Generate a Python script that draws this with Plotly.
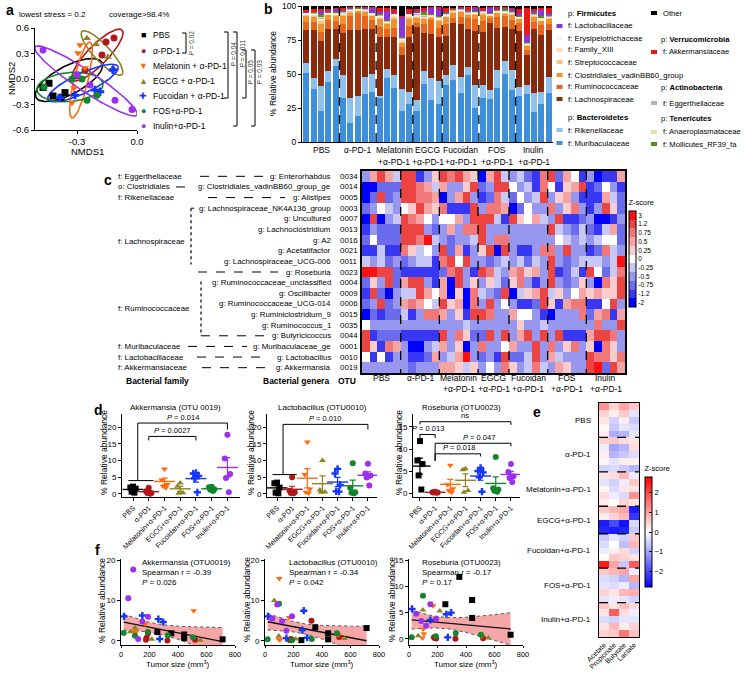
import numpy as np
import plotly.graph_objects as go

W, H = 748, 673
FONT = "Liberation Sans, Arial, Helvetica, sans-serif"


def PX(x):
    return x / W


def PY(y):
    return 1 - y / H


# ---------------- shared group definitions ----------------
groups = ["PBS", "α-PD-1", "Melatonin+α-PD-1", "EGCG+α-PD-1",
          "Fucoidan+α-PD-1", "FOS+α-PD-1", "Inulin+α-PD-1"]
group_sizes = [5, 5, 5, 4, 5, 5, 5]
group_colors = ["#000000", "#b0171b", "#ff6a10", "#8c8424", "#1536ff", "#13852c", "#9b30f0"]
group_symbols = ["square", "circle", "triangle-down", "triangle-up", "cross", "circle", "circle"]
legend_a_labels = ["PBS", "α-PD-1", "Melatonin + α-PD-1", "EGCG + α-PD-1",
                   "Fucoidan + α-PD-1", "FOS+α-PD-1", "Inulin+α-PD-1"]
legend_a_glyphs = ["■", "●", "▼", "▲", "✚", "●", "●"]
bar_group_line1 = ["PBS", "α-PD-1", "Melatonin", "EGCG", "Fucoidan", "FOS", "Inulin"]
bar_group_line2 = ["", "", "+α-PD-1", "+α-PD-1", "+α-PD-1", "+α-PD-1", "+α-PD-1"]

# ---------------- panel a : NMDS ----------------
nmds1 = [[-0.47, -0.44, -0.42, -0.36, -0.38],
         [-0.155, -0.115, -0.175, -0.26, -0.30],
         [-0.295, -0.26, -0.325, -0.315, -0.285],
         [-0.25, -0.145, -0.205, -0.12],
         [-0.12, -0.21, -0.31, -0.385, -0.185],
         [-0.465, -0.325, -0.275, -0.25, -0.20],
         [-0.47, -0.11, -0.025, -0.235, -0.30]]
nmds2 = [[-0.10, -0.05, -0.20, -0.16, -0.22],
         [0.435, 0.482, 0.282, 0.106, 0.035],
         [0.306, 0.13, -0.28, -0.106, 0.40],
         [0.48, 0.26, 0.41, 0.13],
         [0.106, -0.13, -0.19, -0.22, -0.15],
         [-0.094, 0.0, 0.0, -0.25, -0.19],
         [0.34, -0.25, -0.36, -0.07, 0.05]]
ellipse_center = [(-0.34, -0.012), (-0.1975, 0.282), (-0.28, -0.012), (-0.175, 0.306),
                  (-0.27, -0.047), (-0.335, -0.094), (-0.255, -0.023)]
ellipse_major = [(0.165, 0.206), (0.1225, 0.294), (0.045, 0.447), (0.10, -0.253),
                 (0.175, 0.194), (0.165, 0.035), (0.255, -0.40)]
ellipse_minor = [(0.033, -0.147), (0.036, -0.082), (0.034, -0.019), (-0.03, -0.065),
                 (0.021, -0.106), (0.0066, -0.17), (-0.028, -0.099)]
a_pvalues = ["0.02", "0.04", "0.011", "0.05", "0.03"]

# ---------------- panel b : family composition ----------------
families = ["f: Muribaculaceae", "f: Rikenellaceae", "f: Lachnospiraceae", "f: Ruminococcaceae",
            "f: Clostridiales_vadinBB60_group", "f: Streptococcaceae", "f: Family_XIII",
            "f: Erysipelotrichaceae", "f: Eggerthellaceae", "f: Anaeroplasmataceae",
            "f: Mollicutes_RF39_fa", "f: Lactobacillaceae", "f: Akkermansiaceae", "Other"]
family_colors = ["#3d8fdc", "#8fc1ec", "#8a2a0c", "#e5661c", "#f1922e", "#f6c27e", "#f9dcc2",
                 "#fdf0e4", "#b3b3b3", "#d8e7a8", "#5e8a1e", "#8b35d6", "#f01616", "#000000"]
muribaculaceae = [51, 39, 23, 44, 56, 32, 14, 19, 35, 37, 33, 47, 40, 23, 28, 23, 43, 31, 28,
                  42, 46, 36, 49, 25, 32, 32, 40, 50, 38, 34, 35, 22, 28, 36]
rikenellaceae = [7, 8, 18, 8, 5, 17, 18, 15, 13, 13, 0.5, 7, 9, 16, 9, 8, 9, 16, 17,
                 7, 11, 12, 6, 17, 10, 6, 13, 9, 15, 6, 7, 14, 9, 12]
lachnospiraceae = [24, 35, 33, 31, 22, 31, 50, 49, 35, 33, 44, 23, 28, 25, 40, 54, 28, 32, 32,
                   29, 31, 39, 28, 40, 39, 50, 31, 25, 30, 41, 22, 47, 42, 34]
ruminococcaceae = [6, 6, 7, 6, 6, 7, 10, 12, 10, 7, 7, 6, 7, 6, 8, 3, 7, 10, 7,
                   9, 4, 5, 8, 9, 8, 4, 8, 8, 7, 6, 4, 5, 7, 5]
clostridiales_vadin = [5, 4, 6, 4, 4, 6, 3, 2, 3, 3, 6, 4, 7, 3, 6, 4, 4, 2, 5,
                       5, 4, 4, 3, 3, 5, 1, 3, 2, 4, 3, 3, 4, 3, 4]
streptococcaceae = [0.5, 1, 2, 0.5, 0.5, 1, 1, 0.5, 0.5, 0.5, 1, 0.5, 1, 0.5, 1, 1, 0.5, 0.5, 1,
                    0.5, 0.5, 0.5, 0.5, 0.5, 1, 0.5, 0.5, 0.5, 0.5, 0.5, 0.5, 0.5, 0.5, 0.5]
family_xiii = [0.5, 1, 1, 0.5, 0.5, 1, 0.5, 0.5, 0.5, 0.5, 1, 0.5, 1, 2, 1, 1, 0.5, 0.5, 1,
               0.5, 0.5, 0.5, 0.5, 0.5, 0.5, 0.5, 0.5, 0.5, 0.5, 0.5, 0.5, 0.5, 0.5, 0.5]
erysipelotrichaceae = [0.5, 0.5, 1, 0.5, 0.5, 0.5, 0.5, 0.5, 0.5, 0.5, 0.5, 0.5, 0.5, 0.5, 0.5,
                       0.5, 0.5, 0.5, 0.5, 0.5, 0.5, 0.5, 0.5, 0.5, 0.5, 0.5, 0.5, 0.5, 0.5,
                       0.5, 0.5, 0.5, 0.5, 0.5]
eggerthellaceae = [0.3, 0.5, 0.5, 0.3, 0.3, 0.5, 0.5, 0.3, 0.3, 0.3, 0.5, 0.5, 0.5, 0.5, 0.5,
                   0.5, 0.5, 0.3, 0.5, 0.5, 0.3, 0.3, 0.3, 0.3, 0.5, 0.3, 0.3, 0.3, 0.3,
                   0.3, 0.3, 0.3, 0.3, 0.3]
anaeroplasmataceae = [0.2, 0.5, 0.5, 0.2, 0.2, 0.3, 0.2, 0.2, 0.2, 0.2, 0.5, 0.5, 0.3, 0.3, 0.3,
                      0.5, 0.5, 0.2, 0.3, 0.5, 0.2, 0.2, 0.2, 0.2, 0.3, 0.2, 0.2, 0.2, 0.2,
                      0.2, 0.2, 0.2, 0.2, 0.2]
mollicutes = [0.2, 0.3, 2, 0.3, 0.3, 0.2, 0.3, 0.2, 0.5, 0.2, 0.5, 0.5, 0.2, 0.2, 0.2,
              0.5, 2.5, 0.5, 0.2, 0.5, 0.5, 0.5, 0.5, 0.3, 0.2, 0.5, 0.5, 2, 0.5,
              0.5, 0.5, 0.5, 2, 0.5]
lactobacillaceae = [0.5, 0.5, 3, 1, 3, 0.5, 0.5, 0.3, 0.5, 4, 1, 6, 0.5, 15, 0.5,
                    0.5, 0.5, 5, 6, 0.5, 0.5, 0.5, 0.5, 3, 0.5, 4, 1, 0.5, 1,
                    2, 5, 1, 4, 1]
akkermansiaceae = [1.3, 1.2, 0.5, 1.2, 0.5, 1.5, 0.5, 0.5, 0.5, 0.3, 3, 3, 3, 1, 3,
                   2, 2, 0.5, 1, 3, 0.5, 0.5, 2.5, 0.5, 1, 0.3, 1, 0.5, 1.5,
                   3, 20, 2, 2, 4]
other = [3, 2.5, 2.5, 2, 1.2, 1.5, 0.5, 0.5, 0.5, 0.5, 1.5, 1, 2, 7, 2,
         2, 1.5, 0.5, 0.5, 1.5, 1, 0.5, 0.5, 0.5, 1.5, 0.5, 0.5, 0.5, 1,
         2, 1.5, 2, 1, 1.5]
family_values = [muribaculaceae, rikenellaceae, lachnospiraceae, ruminococcaceae,
                 clostridiales_vadin, streptococcaceae, family_xiii, erysipelotrichaceae,
                 eggerthellaceae, anaeroplasmataceae, mollicutes, lactobacillaceae,
                 akkermansiaceae, other]

# ---------------- panel c : OTU heatmap ----------------
otu_ids = ["0034", "0014", "0005", "0003", "0007", "0013", "0016", "0021", "0011", "0023",
           "0004", "0009", "0006", "0015", "0035", "0044", "0001", "0010", "0019"]
genera = ["g: Enterorhabdus", "g: Clostridiales_vadinBB60_group_ge", "g: Alistipes",
          "g: Lachnospiraceae_NK4A136_group", "g: Uncultured", "g: Lachnoclostridium", "g: A2",
          "g: Acetatifactor", "g: Lachnospiraceae_UCG-006", "g: Roseburia",
          "g: Ruminococcaceae_unclassified", "g: Oscillibacter", "g: Ruminococcaceae_UCG-014",
          "g: Ruminiclostridium_9", "g: Ruminococcus_1", "g: Butyricicoccus",
          "g: Muribaculaceae_ge", "g: Lactobacillus", "g: Akkermansia"]
family_labels = ["f: Eggerthellaceae", "o: Clostridiales", "f: Rikenellaceae", "f: Lachnospiraceae",
                 "f: Ruminococcaceae", "f: Muribaculaceae", "f: Lactobacillaceae", "f: Akkermansiaceae"]
family_label_rows = [0, 1, 2, 6.1, 12.4, 16, 17, 18]
z_levels = [-2, -1.2, -0.75, -0.5, -0.25, 0, 0.25, 0.5, 0.75, 1.2, 3]
z_level_colors = ["#0000ff", "#3838f4", "#6b6bee", "#9797ef", "#c8c8f6", "#ffffff",
                  "#f9cdcd", "#f5a3a3", "#f17878", "#ec4343", "#ff1010"]
otu_z = [
    [-0.5, 0.5, 1.2, 0.5, -0.25, 1.2, 1.2, -1.2, -0.5, 0.25, 1.2, 0.75, 1.2, 0.5, 0.25, -2, 0.5, 1.2, -0.25, -0.5, -0.25, -0.75, -1.2, 0.75, 1.2, -0.75, 0.5, 0, -1.2, -0.5, -2, -1.2, -1.2, 0.5],
    [-2, -2, -0.75, -0.75, -0.75, 1.2, 1.2, 0.75, 0.5, -0.25, 0.5, -0.5, -0.5, 0.25, 1.2, -0.75, -0.5, 1.2, 1.2, 0, -0.5, -0.25, -1.2, 0.75, 0, -1.2, 0.25, 0.5, 1.2, -1.2, -0.75, 0, -0.5, -1.2],
    [-2, -0.75, 1.2, -0.75, -0.5, 1.2, 1.2, 0.75, 0.75, 0.5, -2, -0.5, 0.5, 1.2, -0.5, -1.2, -0.75, 0.75, -0.25, -0.75, 0, -0.5, -0.25, 1.2, -0.5, 0.25, 0.5, -0.5, -1.2, -1.2, -1.2, 0.5, -0.25, -0.75],
    [-0.75, -0.5, 0, -0.25, -0.5, 0, 0.25, 1.2, 0.5, 0.25, 0.75, -1.2, -1.2, -1.2, 1.2, -0.5, 0.75, 0.75, 0.5, -2, -0.75, 0, -0.5, -0.5, 0.75, -0.5, 0.25, 0.75, -0.5, -1.2, -0.5, 1.2, 0.25, -0.75],
    [-2, 1.2, -2, -0.5, -0.25, 1.2, 0.75, 0.5, 0, -0.5, 0, 0, 0.5, -0.5, 1.2, 1.2, 1.2, -0.25, -1.2, 1.2, 0.25, 0, 0.5, -0.25, -0.5, 1.2, -1.2, -1.2, -0.75, -0.5, -2, -2, -1.2, -0.5],
    [-1.2, -0.5, -0.75, -0.75, -0.75, 1.2, 1.2, 1.2, -0.5, -0.75, -0.5, 0.5, -0.5, 0.75, 0.75, 1.2, -0.5, -0.5, -0.5, -0.5, -0.5, -0.5, -0.5, -0.5, 1.2, -0.25, -0.5, -0.75, -0.25, -0.75, -1.2, -0.25, 0.5, -0.75],
    [-0.75, 0, -0.75, -0.75, -0.75, 1.2, 1.2, 0.75, 3, -0.25, -0.5, -0.75, -0.5, -0.5, -0.25, 1.2, -0.5, 0.75, 0.75, -0.5, -0.5, -0.5, -0.5, -0.5, -0.5, 0, -0.25, -0.5, -0.25, -0.5, -0.25, 0, 0, -0.75],
    [-1.2, -1.2, -0.25, -1.2, -1.2, 0.75, 0.25, -0.25, 0, -0.5, 1.2, -0.75, 0.5, -1.2, -0.5, 0.25, 1.2, -2, 1.2, -0.5, -1.2, -1.2, -0.5, 0.75, 0.75, -0.5, 1.2, -0.5, -0.5, -1.2, -0.75, 0.75, -0.25, -0.5],
    [-0.25, -0.5, -0.25, -0.75, -0.5, -0.75, -0.5, -0.25, -0.25, -1.2, 0.75, 1.2, 0, 1.2, -0.5, -0.5, -0.75, -0.5, -0.25, -0.5, -0.25, -0.75, -0.25, -0.5, 1.2, -0.5, -0.75, -0.5, -0.25, -0.25, -0.25, -0.5, -0.25, 3],
    [3, 3, 1.2, 1.2, -0.75, -1.2, -1.2, -1.2, -1.2, -1.2, -0.75, 0.75, 1.2, -0.5, -1.2, 1.2, 0.75, -0.25, -0.5, 0.5, 0.75, 0.25, 0.5, -0.5, 1.2, -1.2, -0.75, -0.25, -1.2, 1.2, 0, -0.75, -0.25, 0.75],
    [-0.75, 0.25, -0.5, 1.2, -0.75, 0.5, 1.2, 1.2, -0.5, -1.2, 0.5, -2, 1.2, -0.5, 0.25, -0.5, 0.25, -0.25, -0.75, 0.25, 0.75, -0.5, -1.2, -0.5, 1.2, -0.5, -0.75, -0.5, 0.25, -0.5, -2, 0.75, 0.25, 1.2],
    [-1.2, 1.2, -0.75, -2, -0.5, -0.25, -0.25, 1.2, 0.5, 0, 0.5, -2, 0.25, -2, 0.75, -0.25, -0.5, -0.75, 1.2, -2, -0.25, 0.25, 0.5, 1.2, -0.25, 0.25, -0.5, 0, 0.5, 0.25, 0.5, 0.25, 0.25, 1.2],
    [-0.75, -0.5, 1.2, -0.75, -0.5, 0.5, 0.75, 0.5, 0, -0.25, 1.2, 0.25, 0.5, -2, 0.75, -0.5, 1.2, -0.5, 0, -0.5, -1.2, -1.2, -0.75, 1.2, 0.25, -1.2, 0.5, 0.75, 0.75, -1.2, -1.2, 0, 1.2, -0.5],
    [-2, -0.75, -1.2, -0.75, -0.75, -0.25, -1.2, -0.5, 0.75, 0.75, 0.5, -0.5, 0.25, -1.2, 1.2, 1.2, 0.75, -0.5, -0.5, 0.5, 0, 0, -0.5, -1.2, -2, -0.5, -0.5, -0.5, 0.75, -0.75, 0.5, 0.75, -1.2, 0.5],
    [0, -0.5, -0.5, -0.5, -0.5, -0.5, -0.5, -0.5, -0.5, -0.5, -0.5, -0.5, -0.5, -0.25, -0.5, -0.5, -0.5, -0.5, -0.5, -0.5, 0.25, -0.5, -0.5, -0.25, -0.5, -0.5, -0.5, -0.5, -0.5, -0.5, 0.75, -0.5, -0.5, 1.2],
    [1.2, -1.2, -0.75, -0.75, -0.75, -1.2, -1.2, -1.2, -1.2, -1.2, 1.2, -0.5, 0.75, 0.25, -0.75, -0.75, 1.2, -0.5, 1.2, -0.5, 0.5, 1.2, -0.5, 1.2, -0.5, 1.2, -1.2, -1.2, -1.2, 0.5, 1.2, 1.2, 0.75, -0.5],
    [1.2, 0.25, -1.2, 0.75, 0.5, -0.5, -2, -2, -0.5, -0.25, 0.5, -0.5, 0.25, -2, -0.5, 0.75, -0.5, -0.5, 0, 0.5, -0.5, -0.5, 1.2, -0.5, 0.75, -0.5, 0.25, 0.75, -0.5, 0.25, -2, 0.75, 0.25, -0.5],
    [0, -1.2, 0, -1.2, -0.5, -0.5, -1.2, -1.2, -0.75, 0.5, -0.5, -0.25, 0.5, 3, -0.5, -0.75, -0.5, -1.2, 1.2, -0.75, -0.75, -0.25, 1.2, -0.5, 0.5, -0.25, -0.5, -0.5, -0.5, 1.2, 0.75, 0.75, 0.25, 0.75],
    [-0.5, -0.5, -0.5, -0.5, -0.5, -0.5, -0.75, -0.5, -0.5, -0.5, 0.5, 0.5, 0.25, -0.25, 0.25, -0.5, 0, -0.5, 0.75, 0.25, -0.5, -0.25, 0.75, -0.25, -0.5, 0.5, 0.25, -0.5, -0.5, 1.2, 3, -0.75, 1.2, 0.5],
]

# ---------------- panel d / f : selected OTUs per mouse ----------------
d_tick_labels_12 = ["PBS", "α-PD1", "Melatonin+α-PD-1", "EGCG+α-PD-1",
                    "Fucoidan+α-PD-1", "FOS+α-PD-1", "Inulin+α-PD-1"]
d_tick_labels_3 = ["PBS", "α-PD-1", "Melatonin+α-PD-1", "EGCG+α-PD-1",
                   "Fucoidan+α-PD-1", "FOS+α-PD-1", "Inulin+α-PD-1"]
tumor_size = [[255, 353, 443, 443, 713], [175, 180, 190, 326, 520], [95, 100, 105, 169, 510],
              [65, 97, 216, 557], [21, 150, 262, 272, 296], [19, 98, 188, 328, 505],
              [51, 86, 120, 150, 190]]
akkermansia = [[2.2, 1.9, 1.6, 0.7, 0.4], [0.3, 0.8, 1.9, 0.1, 0.3], [2.3, 1.9, 2.8, 4.2, 7.5],
               [2.3, 3.3, 0.4, 0.2], [6.1, 6.3, 5.4, 0.5, 4.7], [2.0, 1.3, 2.2, 1.4, 0.9],
               [10.6, 17.7, 0.5, 4.8, 6.0]]
lactobacillus = [[0.2, 3.4, 1.9, 0.4, 3.2], [0.2, 0.5, 0.3, 5.0, 1.0], [0.5, 15.5, 0.3, 5.8, 1.5],
                 [10.0, 1.2, 0.5, 0.6], [6.1, 0.7, 2.7, 7.5, 0.8], [0.4, 9.2, 0.2, 0.5, 1.9],
                 [5.5, 9.0, 4.9, 2.5, 6.1]]
roseburia = [[6.6, 11.8, 7.4, 4.0, 0.8], [0.3, 0.2, 0.1, 0.05, 0.15], [0.2, 1.9, 1.0, 6.3, 0.5],
             [0.6, 5.5, 5.3, 0.2], [5.7, 3.6, 4.7, 0.3, 5.0], [0.3, 8.2, 0.5, 1.1, 0.8],
             [4.8, 3.4, 2.5, 6.6, 3.8]]
otu_titles_d = ["Akkermansia (OTU 0019)", "Lactobacillus (OTU0010)", "Roseburia (OTU0023)"]
otu_titles_f = ["Akkermansia (OTU0019)", "Lactobacillus (OTU0010)", "Roseburia (OTU0023)"]
spearman_r = ["-0.39", "-0.34", "-0.17"]
spearman_p = ["0.026", "0.042", "0.17"]

# ---------------- panel e : SCFA heatmap ----------------
scfa_names = ["Acetate", "Propionate", "Butyrate", "Lactate"]
scfa_z = [
    [1.2, 0.5, 1.0, 0.6], [0.5, 0.2, 0.6, -0.3], [0.3, -0.5, 0.2, -0.6], [0.1, -0.6, -0.3, -0.4],
    [0.2, -0.9, -0.8, -0.3],
    [0.5, 0.6, 0.4, 0.3], [-0.2, -1.0, -0.8, 0.4], [0.2, -0.8, -0.6, -0.4], [0.1, -0.3, 0.2, 0.2],
    [-0.5, -0.4, -0.6, -0.8],
    [0.3, 0.4, 0.8, -0.2], [-0.3, -0.5, -0.2, 0.6], [0.1, -0.4, 0.3, 0.3], [0.4, -0.2, -0.4, 1.2],
    [0.2, 0.0, 0.5, 0.3],
    [0.6, 0.8, 1.0, -2.5], [0.2, 0.5, 0.8, -2.2], [-2.5, -2.0, -2.6, -0.4], [-2.4, -2.5, -2.4, -0.6],
    [-0.6, -0.3, -0.5, 0.6], [-0.4, 0.0, -0.7, 0.8], [-0.2, 0.2, 0.4, -0.5], [0.0, 0.6, 0.5, 0.3],
    [2.5, 1.0, -0.6, 1.8],
    [0.6, 0.8, 1.0, -0.2], [-0.4, -0.5, -0.8, 1.0], [-0.3, -0.4, -0.2, -0.8], [0.5, 0.3, 0.8, 0.9],
    [-0.3, -0.2, -0.3, -0.5],
    [0.6, 0.3, 0.7, 0.4], [0.3, 1.8, 0.4, -0.2], [-0.4, -0.5, -0.3, -0.3], [0.3, 0.8, 0.2, 0.5],
    [0.5, 0.6, 1.5, 0.7],
]

# =====================================================================
fig = go.Figure()
annotations = []
shapes = []


def A(x, y, text, size=8, xa="center", ya="middle", color="black", angle=0,
      xref="paper", yref="paper"):
    if xref == "paper":
        x = PX(x)
    if yref == "paper":
        y = PY(y)
    annotations.append(dict(x=x, y=y, xref=xref, yref=yref, text=text, showarrow=False,
                            font=dict(family=FONT, size=size, color=color),
                            xanchor=xa, yanchor=ya, textangle=angle, borderpad=0))


def L(x0, y0, x1, y1, xref="paper", yref="paper", dash="solid", width=1, color="black"):
    if xref == "paper":
        x0, x1 = PX(x0), PX(x1)
    if yref == "paper":
        y0, y1 = PY(y0), PY(y1)
    shapes.append(dict(type="line", x0=x0, y0=y0, x1=x1, y1=y1, xref=xref, yref=yref,
                       line=dict(color=color, width=width, dash=dash)))


def R(x0, y0, x1, y1, color):
    shapes.append(dict(type="rect", x0=PX(x0), x1=PX(x1), y0=PY(y0), y1=PY(y1),
                       xref="paper", yref="paper", line=dict(width=0), fillcolor=color))


def base_axis(domain, rng, size=8, **kw):
    d = dict(domain=domain, range=rng, showline=True, linecolor="black", linewidth=1,
             ticks="outside", ticklen=3, tickwidth=1, tickcolor="black", showgrid=False,
             zeroline=False, tickfont=dict(family=FONT, size=size, color="black"),
             fixedrange=True, automargin=False)
    d.update(kw)
    return d


group_starts = np.cumsum([0] + group_sizes[:-1])
group_centers = [s + (n - 1) / 2 for s, n in zip(group_starts, group_sizes)]
group_bounds = [s - 0.5 for s in group_starts[1:]]

# ---------------- panel a ----------------
t = np.linspace(0, 2 * np.pi, 120)
for g in range(7):
    cx, cy = ellipse_center[g]
    ux, uy = ellipse_major[g]
    vx, vy = ellipse_minor[g]
    fig.add_trace(go.Scatter(x=cx + ux * np.cos(t) + vx * np.sin(t),
                             y=cy + uy * np.cos(t) + vy * np.sin(t),
                             mode="lines", line=dict(color=group_colors[g], width=1.6),
                             xaxis="x", yaxis="y", hoverinfo="skip"))
for g in range(7):
    fig.add_trace(go.Scatter(x=nmds1[g], y=nmds2[g], mode="markers",
                             marker=dict(symbol=group_symbols[g], size=7, color=group_colors[g]),
                             xaxis="x", yaxis="y"))

A(10, 10, "<b>a</b>", size=14)
A(18, 14, "lowest stress = 0.2", size=8, xa="left")
A(108, 14, "coverage>98.4%", size=8, xa="left")
A(11, 79, "NMDS2", size=9.5, angle=-90)
A(87, 152, "NMDS1", size=9.5)
legend_a_y = [35, 51, 66, 81, 96, 111, 126]
for g in range(7):
    A(143, legend_a_y[g], legend_a_glyphs[g], size=9, color=group_colors[g])
    A(152, legend_a_y[g], legend_a_labels[g], size=8.5, xa="left")
# significance brackets (panel a)
a_br_x = [186, 228, 237, 246, 255]
a_br_span = [(33, 53), (32, 98), (32, 126), (50, 98), (50, 126)]
for i in range(5):
    xb = a_br_x[i]
    y0, y1 = a_br_span[i]
    L(xb, y0, xb, y1, width=1)
    L(xb - 4, y0, xb, y0, width=1)
    L(xb - 4, y1, xb, y1, width=1)
    A(xb + 4.5, (y0 + y1) / 2 if i == 0 else y0 + 22, "<i>P</i> = " + a_pvalues[i],
      size=6.5, angle=-90, color="#333333")

# ---------------- panel b ----------------
bar_x = list(range(sum(group_sizes)))
for f in range(len(families)):
    fig.add_trace(go.Bar(x=bar_x, y=family_values[f], marker=dict(color=family_colors[f], line=dict(width=0)),
                         xaxis="x2", yaxis="y2", name=families[f]))
for b in group_bounds:
    L(b, 0, b, 100, xref="x2", yref="y2", dash="dash", width=1.3)
for g in range(7):
    A(group_centers[g], 150, bar_group_line1[g], size=8.5, xref="x2")
    if bar_group_line2[g]:
        A(group_centers[g], 162, bar_group_line2[g], size=8.5, xref="x2")
A(268, 9, "<b>b</b>", size=14)
A(273, 74, "% Relative abundance", size=8.5, angle=-90)

# legend of b
fam_idx = {name: i for i, name in enumerate(families)}
left_col = [("p: <b>Firmicutes</b>", 13, None),
            ("f: Lactobacillaceae", 26, "f: Lactobacillaceae"),
            ("f: Erysipelotrichaceae", 38, "f: Erysipelotrichaceae"),
            ("f: Family_XIII", 50, "f: Family_XIII"),
            ("f: Streptococcaceae", 62, "f: Streptococcaceae"),
            ("f: Clostridiales_vadinBB60_group", 75, "f: Clostridiales_vadinBB60_group"),
            ("f: Ruminococcaceae", 87, "f: Ruminococcaceae"),
            ("f: Lachnospiraceae", 99, "f: Lachnospiraceae"),
            ("p: <b>Bacteroidetes</b>", 117, None),
            ("f: Rikenellaceae", 130, "f: Rikenellaceae"),
            ("f: Muribaculaceae", 143, "f: Muribaculaceae")]
right_col = [("Other", 13, "Other"),
             ("p: <b>Verrucomicrobia</b>", 39, None),
             ("f: Akkermansiaceae", 52, "f: Akkermansiaceae"),
             ("p: <b>Actinobacteria</b>", 88, None),
             ("f: Eggerthellaceae", 103, "f: Eggerthellaceae"),
             ("p: <b>Tenericutes</b>", 118, None),
             ("f: Anaeroplasmataceae", 132, "f: Anaeroplasmataceae"),
             ("f: Mollicutes_RF39_fa", 144, "f: Mollicutes_RF39_fa")]
for text, yy, key in left_col:
    A(567, yy, text, size=7.8, xa="left")
    if key:
        R(556.5, yy - 2, 562.5, yy + 2, family_colors[fam_idx[key]])
for text, yy, key in right_col:
    A(662 if key else 660, yy, text, size=7.6, xa="left")
    if key:
        R(651, yy - 2, 657, yy + 2, family_colors[fam_idx[key]])

# ---------------- panel c ----------------
c_index = [[int(np.argmin(np.abs(np.array(z_levels) - v))) for v in row] for row in otu_z]
c_scale = []
nlev = len(z_levels)
for i, col in enumerate(z_level_colors):
    c_scale.append([i / nlev, col])
    c_scale.append([(i + 1) / nlev, col])
fig.add_trace(go.Heatmap(z=c_index, x=bar_x, y=list(range(len(otu_ids))), colorscale=c_scale,
                         zmin=-0.5, zmax=nlev - 0.5, xaxis="x3", yaxis="y3",
                         colorbar=dict(x=PX(629), xanchor="left", y=PY(252), yanchor="middle",
                                       len=110 / H, lenmode="fraction", thickness=7,
                                       thicknessmode="pixels", tickvals=list(range(nlev)),
                                       ticktext=[str(v) for v in z_levels],
                                       tickfont=dict(family=FONT, size=6.5, color="black"),
                                       outlinecolor="black", outlinewidth=1, ticks="",
                                       title=dict(text="Z-score", side="top",
                                                  font=dict(family=FONT, size=7.5, color="black")),
                                       xpad=0, ypad=0)))
for b in group_bounds:
    L(b, -0.5, b, len(otu_ids) - 0.5, xref="x3", yref="y3", dash="dash", width=1.3)
for r in range(len(otu_ids)):
    A(332, r, genera[r], size=7.9, xa="right", yref="y3")
    A(339, r, otu_ids[r], size=7.9, xa="left", yref="y3")
for lab, rr in zip(family_labels, family_label_rows):
    A(117, rr, lab, size=7.9, xa="left", yref="y3")
c_conn_rows = [0, 1, 2, 9, 15, 16, 17, 18]
c_conn_x0 = [200, 176, 208, 198, 201, 188, 197, 202]
c_conn_x1 = [263, 187, 285, 278, 265, 247, 268, 268]
for rr, x0, x1 in zip(c_conn_rows, c_conn_x0, c_conn_x1):
    L(x0, rr, x1, rr, yref="y3", dash="dash", width=1)
L(191, 3, 191, 8.3, yref="y3", dash="dot", width=1.2)
L(191, 3, 194, 3, yref="y3", dash="solid", width=1)
L(201, 9.9, 201, 15, yref="y3", dash="dot", width=1.2)
for g in range(7):
    A(group_centers[g], 378, bar_group_line1[g], size=8.5, xref="x3")
    if bar_group_line2[g]:
        A(group_centers[g], 389, bar_group_line2[g], size=8.5, xref="x3")
A(157, 381, "<b>Bacterial family</b>", size=8.5)
A(296, 381, "<b>Bacterial genera</b>", size=8.5)
A(347, 381, "<b>OTU</b>", size=8.5)
A(108, 180, "<b>c</b>", size=14)

# ---------------- panel d ----------------
d_axes = [("x4", "y4"), ("x5", "y5"), ("x6", "y6")]
d_data = [akkermansia, lactobacillus, roseburia]
spread = [0.0, -0.17, 0.17, -0.09, 0.09]
for k in range(3):
    xa, ya = d_axes[k]
    for g in range(7):
        vals = np.array(d_data[k][g], dtype=float)
        order = np.argsort(-vals)
        offs = np.zeros(len(vals))
        for rank, idx in enumerate(order):
            offs[idx] = spread[rank]
        fig.add_trace(go.Scatter(x=g + offs, y=vals, mode="markers",
                                 marker=dict(symbol=group_symbols[g], size=6, color=group_colors[g]),
                                 xaxis=xa, yaxis=ya))
        m = vals.mean()
        se = vals.std(ddof=1) / np.sqrt(len(vals))
        fig.add_trace(go.Scatter(x=[g], y=[m], mode="markers",
                                 marker=dict(symbol="line-ew", size=15,
                                             line=dict(width=1.4, color=group_colors[g])),
                                 error_y=dict(type="data", array=[se], width=3, thickness=1.2,
                                              color=group_colors[g]),
                                 xaxis=xa, yaxis=ya))
d_title_x = [175, 322, 461]
for k in range(3):
    A(d_title_x[k], 407, otu_titles_d[k], size=8)
d_ytitle_x = [104, 251, 399]
for k in range(3):
    A(d_ytitle_x[k], 453, "% Relative abundance", size=8.5, angle=-90)
A(98, 410, "<b>d</b>", size=14)


def bracket(xa, ya, x0, x1, yb, leg0, leg1, label, lx=None):
    L(x0, leg0, x0, yb, xref=xa, yref=ya)
    L(x0, yb, x1, yb, xref=xa, yref=ya)
    L(x1, yb, x1, leg1, xref=xa, yref=ya)
    A((x0 + x1) / 2 if lx is None else lx, yb + 0.15, label, size=7.5, ya="bottom",
      xref=xa, yref=ya)


L(-0.3, 4.0, 1.3, 4.0, xref="x4", yref="y4")
bracket("x4", "y4", 0.3, 6, 21.2, 4.0, 19.3, "<i>P</i> = 0.014")
bracket("x4", "y4", 1, 4, 17.2, 16.0, 16.0, "<i>P</i> = 0.0027")
L(-0.3, 5.8, 1.3, 5.8, xref="x5", yref="y5")
bracket("x5", "y5", 0.4, 6, 20.8, 5.8, 19.3, "<i>P</i> = 0.010")
bracket("x6", "y6", 0, 1, 13.3, 12.5, 12.5, "<i>P</i> = 0.013")
bracket("x6", "y6", 0, 6, 16.2, 15.6, 15.5, "ns")
bracket("x6", "y6", 1, 6, 11.3, 7.3, 10.6, "<i>P</i> = 0.047", lx=3.9)
bracket("x6", "y6", 1, 4, 8.9, 7.3, 8.3, "<i>P</i> = 0.018", lx=2.6)

# ---------------- panel e ----------------
fig.add_trace(go.Heatmap(z=scfa_z, x=list(range(4)), y=list(range(len(scfa_z))),
                         colorscale=[[0, "#0000ff"], [0.5, "#ffffff"], [1, "#ff0000"]],
                         zmin=-2.8, zmax=2.8, xaxis="x7", yaxis="y7",
                         colorbar=dict(x=PX(645), xanchor="left", y=PY(525), yanchor="middle",
                                       len=124 / H, lenmode="fraction", thickness=7,
                                       thicknessmode="pixels", tickvals=[-2, -1, 0, 1, 2],
                                       tickfont=dict(family=FONT, size=7.5, color="black"),
                                       outlinecolor="black", outlinewidth=1, ticks="inside",
                                       ticklen=3, tickcolor="black",
                                       title=dict(text="Z-score", side="top",
                                                  font=dict(family=FONT, size=7.5, color="black")),
                                       xpad=0, ypad=0)))
for b in group_bounds:
    L(-0.5, b, 3.5, b, xref="x7", yref="y7", dash="dash", width=1.3)
for g in range(7):
    A(592, group_centers[g], groups[g], size=8, xa="right", yref="y7")
A(537, 412, "<b>e</b>", size=14)

# ---------------- panel f ----------------
f_axes = [("x8", "y8"), ("x9", "y9"), ("x10", "y10")]
f_text_x = [141, 288, 421]
tcrit = 2.04
for k in range(3):
    xa, ya = f_axes[k]
    xs = np.concatenate([np.array(v, float) for v in tumor_size])
    ys = np.concatenate([np.array(v, float) for v in d_data[k]])
    slope, icpt = np.polyfit(xs, ys, 1)
    n = len(xs)
    resid = ys - (slope * xs + icpt)
    s = np.sqrt(np.sum(resid ** 2) / (n - 2))
    xm = xs.mean()
    sxx = np.sum((xs - xm) ** 2)
    xg = np.linspace(xs.min(), xs.max(), 60)
    yfit = slope * xg + icpt
    band = tcrit * s * np.sqrt(1 / n + (xg - xm) ** 2 / sxx)
    fig.add_trace(go.Scatter(x=xg, y=yfit - band, mode="lines",
                             line=dict(color="#555555", width=1, dash="dot"),
                             xaxis=xa, yaxis=ya))
    fig.add_trace(go.Scatter(x=xg, y=yfit + band, mode="lines", fill="tonexty",
                             fillcolor="rgba(243,150,150,0.85)",
                             line=dict(color="#555555", width=1, dash="dot"),
                             xaxis=xa, yaxis=ya))
    fig.add_trace(go.Scatter(x=xg, y=yfit, mode="lines", line=dict(color="#111111", width=1.4),
                             xaxis=xa, yaxis=ya))
    for g in range(7):
        fig.add_trace(go.Scatter(x=tumor_size[g], y=d_data[k][g], mode="markers",
                                 marker=dict(symbol=group_symbols[g], size=6, color=group_colors[g]),
                                 xaxis=xa, yaxis=ya))
    A(f_text_x[k], 562, otu_titles_f[k], size=8, xa="left")
    A(f_text_x[k], 572, "Spearman r = " + spearman_r[k], size=8, xa="left")
    A(f_text_x[k], 582, "<i>P</i> = " + spearman_p[k], size=8, xa="left")
f_xc = [178, 322, 466]
f_ytitle_x = [102, 247, 392]
for k in range(3):
    A(f_xc[k], 664, "Tumor size (mm<sup>3</sup>)", size=8)
    A(f_ytitle_x[k], 600, "% Relative abundance", size=8.5, angle=-90)
A(97, 550, "<b>f</b>", size=14)

# ---------------- layout / axes ----------------
fx = dict(tickvals=[0, 200, 400, 600, 800], ticklen=2, tickfont=dict(family=FONT, size=7.5, color="black"))
layout_axes = dict(
    xaxis=base_axis([PX(35), PX(137)], [-0.51, 0.0], size=9.5, tickvals=[-0.3, 0.0],
                    ticktext=["-0.3", "0.0"], anchor="y"),
    yaxis=base_axis([PY(130), PY(28)], [-0.6, 0.6], size=9.5,
                    tickvals=[-0.6, -0.3, 0.0, 0.3, 0.6],
                    ticktext=["-0.6", "-0.3", "0.0", "0.3", "0.6"], anchor="x"),
    xaxis2=base_axis([PX(302), PX(553)], [-0.6, len(bar_x) - 0.4], showticklabels=False,
                     ticks="", anchor="y2"),
    yaxis2=base_axis([PY(142), PY(6)], [0, 100], size=8.5, tickvals=[0, 25, 50, 75, 100],
                     ticksuffix="%", anchor="x2"),
    xaxis3=base_axis([PX(362), PX(625)], [-0.5, len(bar_x) - 0.5], showticklabels=False,
                     ticks="", mirror=True, linewidth=1.5, anchor="y3"),
    yaxis3=base_axis([PY(373), PY(171)], [len(otu_ids) - 0.5, -0.5], showticklabels=False,
                     ticks="", mirror=True, linewidth=1.5, anchor="x3"),
    xaxis4=base_axis([PX(122), PX(240)], [-0.7, 6.8], size=7.2, tickvals=list(range(7)),
                     ticktext=d_tick_labels_12, tickangle=-45, anchor="y4"),
    yaxis4=base_axis([PY(497), PY(414)], [-0.9, 23.9], tickvals=[0, 5, 10, 15, 20], anchor="x4"),
    xaxis5=base_axis([PX(267), PX(377)], [-0.66, 6.6], size=7.2, tickvals=list(range(7)),
                     ticktext=d_tick_labels_12, tickangle=-45, anchor="y5"),
    yaxis5=base_axis([PY(497), PY(414)], [-0.9, 23.9], tickvals=[0, 5, 10, 15, 20], anchor="x5"),
    xaxis6=base_axis([PX(413), PX(520)], [-0.46, 6.6], size=7.2, tickvals=list(range(7)),
                     ticktext=d_tick_labels_3, tickangle=-45, anchor="y6"),
    yaxis6=base_axis([PY(497), PY(414)], [-0.9, 17.95], tickvals=[0, 5, 10, 15], anchor="x6"),
    xaxis7=base_axis([PX(599), PX(639)], [-0.5, 3.5], size=7, tickvals=list(range(4)),
                     ticktext=scfa_names, tickangle=-45, ticks="", mirror=True, linewidth=1.3,
                     anchor="y7"),
    yaxis7=base_axis([PY(637), PY(403)], [len(scfa_z) - 0.5, -0.5], showticklabels=False,
                     ticks="", mirror=True, linewidth=1.3, anchor="x7"),
    xaxis8=base_axis([PX(121), PX(235)], [0, 800], anchor="y8", **fx),
    yaxis8=base_axis([PY(645), PY(559)], [-1.0, 20.3], tickvals=[0, 10, 20], anchor="x8"),
    xaxis9=base_axis([PX(265), PX(379)], [0, 800], anchor="y9", **fx),
    yaxis9=base_axis([PY(645), PY(559)], [-1.0, 20.3], tickvals=[0, 10, 20], anchor="x9"),
    xaxis10=base_axis([PX(409), PX(523)], [0, 800], anchor="y10", **fx),
    yaxis10=base_axis([PY(645), PY(559)], [-1.15, 15.2], tickvals=[0, 5, 10, 15], anchor="x10"),
)

fig.update_layout(
    template="none",
    width=W, height=H, autosize=False,
    margin=dict(l=0, r=0, t=0, b=0, pad=0),
    paper_bgcolor="white", plot_bgcolor="white",
    showlegend=False,
    barmode="stack", barnorm="percent", bargap=0.18,
    font=dict(family=FONT, size=8, color="black"),
    annotations=annotations, shapes=shapes,
    **layout_axes,
)
fig.update_traces(hoverinfo="skip", selector=dict(type="scatter"))

fig.write_html("out.html", config={"displayModeBar": False},
               post_script="document.body.style.margin='0px';document.body.style.padding='0px';")
